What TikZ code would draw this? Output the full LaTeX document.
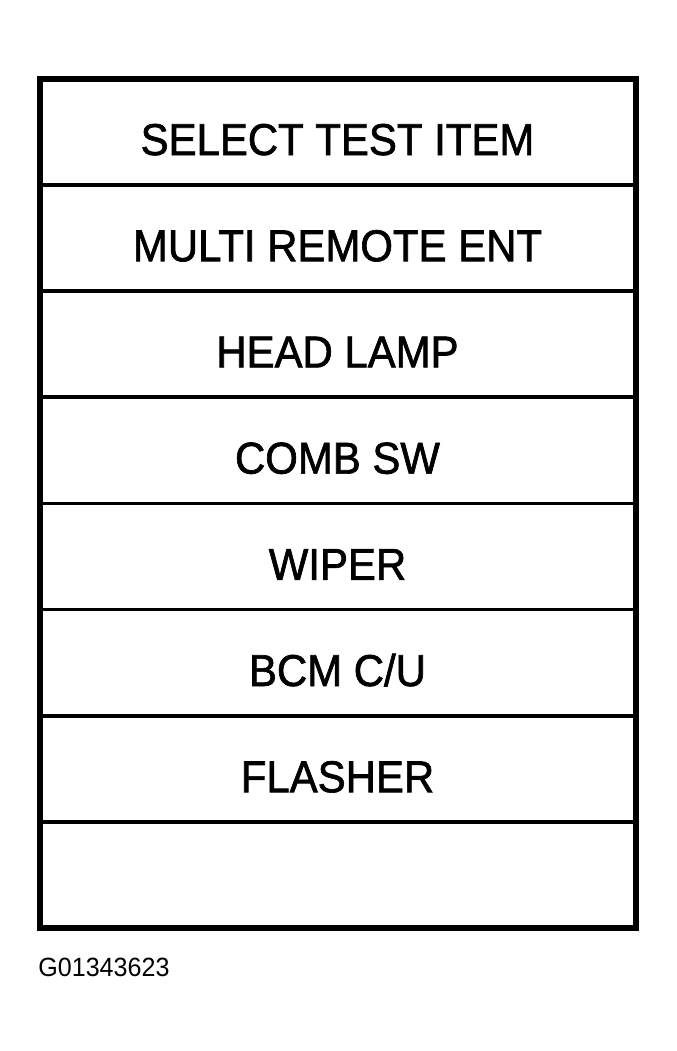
\documentclass[tikz,border=0pt]{standalone}
\usepackage{fontspec}
\setmainfont[FakeStretch=0.95]{Liberation Sans}
\newfontfamily\menufont[FakeStretch=0.94, FakeBold=1.5]{Liberation Sans}
\usetikzlibrary{positioning}

\begin{document}
\begin{tikzpicture}[x=0.5pt, y=-0.5pt, node distance=0pt,
    menurow/.style={rectangle, draw, line width=1.8pt, outer sep=0pt,
      minimum width=298pt, minimum height=53.1pt, inner sep=0pt,
      text height=23.4pt, text depth=0pt,
      font=\menufont\fontsize{22.3}{26}\selectfont},
    frame/.style={draw, line width=3pt}]

    \useasboundingbox (0,0) rectangle (676,1051);

    % Rows
    \node (title) [menurow, anchor=north west] at (39.5,78.5) {SELECT TEST ITEM};
    \node (multi) [menurow, below=of title] {MULTI REMOTE ENT};
    \node (head) [menurow, below=of multi] {HEAD LAMP};
    \node (comb) [menurow, below=of head] {COMB SW};
    \node (wiper) [menurow, below=of comb] {WIPER};
    \node (bcm) [menurow, below=of wiper] {BCM C/U};
    \node (flash) [menurow, below=of bcm] {FLASHER};
    \node (empty) [menurow, below=of flash] {};

    % Outer frame
    \draw[frame] (title.north west) rectangle (empty.south east);

    % Figure number
    \node (fig) [anchor=north west, inner sep=0pt, font=\fontsize{13.2}{15}\selectfont]
      at (38,958) {G01343623};
\end{tikzpicture}
\end{document}
